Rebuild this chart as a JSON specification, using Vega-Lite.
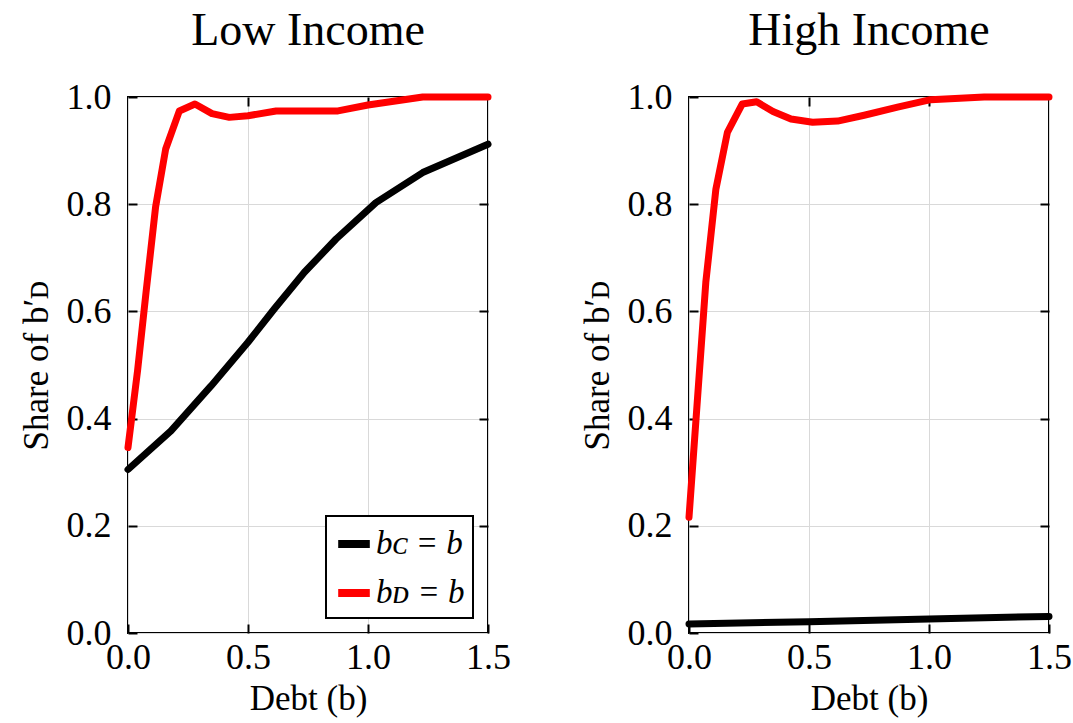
{
  "$schema": "https://vega.github.io/schema/vega-lite/v6.json",
  "background": "white",
  "padding": {"left": 18, "top": 7, "right": 5, "bottom": 5},
  "config": {
    "font": "Liberation Serif",
    "view": {"stroke": "black", "strokeWidth": 2},
    "axis": {
      "labelFont": "Liberation Serif",
      "titleFont": "Liberation Serif",
      "labelFontSize": 36,
      "titleFontSize": 35,
      "titleFontWeight": "normal",
      "labelColor": "black",
      "titleColor": "black",
      "gridColor": "#d9d9d9",
      "gridWidth": 1,
      "domain": false,
      "tickColor": "black",
      "tickWidth": 2,
      "tickSize": -9,
      "labelFlush": false
    },
    "title": {"font": "Liberation Serif", "fontSize": 46, "fontWeight": "normal", "color": "black", "frame": "group", "anchor": "middle", "offset": 24}
  },
  "datasets": {
    "low": [
      {"b": 0.0, "share": 0.305, "series": "C"},
      {"b": 0.179, "share": 0.377, "series": "C"},
      {"b": 0.346, "share": 0.461, "series": "C"},
      {"b": 0.499, "share": 0.542, "series": "C"},
      {"b": 0.61, "share": 0.605, "series": "C"},
      {"b": 0.735, "share": 0.673, "series": "C"},
      {"b": 0.867, "share": 0.735, "series": "C"},
      {"b": 1.033, "share": 0.803, "series": "C"},
      {"b": 1.228, "share": 0.859, "series": "C"},
      {"b": 1.5, "share": 0.912, "series": "C"},
      {"b": 0.0, "share": 0.346, "series": "D"},
      {"b": 0.04, "share": 0.49, "series": "D"},
      {"b": 0.075, "share": 0.635, "series": "D"},
      {"b": 0.115, "share": 0.795, "series": "D"},
      {"b": 0.157, "share": 0.903, "series": "D"},
      {"b": 0.214, "share": 0.974, "series": "D"},
      {"b": 0.279, "share": 0.987, "series": "D"},
      {"b": 0.35, "share": 0.969, "series": "D"},
      {"b": 0.422, "share": 0.962, "series": "D"},
      {"b": 0.5, "share": 0.965, "series": "D"},
      {"b": 0.617, "share": 0.974, "series": "D"},
      {"b": 0.875, "share": 0.974, "series": "D"},
      {"b": 1.0, "share": 0.985, "series": "D"},
      {"b": 1.228, "share": 1.0, "series": "D"},
      {"b": 1.5, "share": 1.0, "series": "D"}
    ],
    "high": [
      {"b": 0.0, "share": 0.017, "series": "C"},
      {"b": 0.5, "share": 0.021, "series": "C"},
      {"b": 1.0, "share": 0.026, "series": "C"},
      {"b": 1.5, "share": 0.031, "series": "C"},
      {"b": 0.0, "share": 0.216, "series": "D"},
      {"b": 0.07, "share": 0.654, "series": "D"},
      {"b": 0.112, "share": 0.828, "series": "D"},
      {"b": 0.16, "share": 0.934, "series": "D"},
      {"b": 0.222, "share": 0.987, "series": "D"},
      {"b": 0.282, "share": 0.991, "series": "D"},
      {"b": 0.35, "share": 0.973, "series": "D"},
      {"b": 0.425, "share": 0.959, "series": "D"},
      {"b": 0.515, "share": 0.953, "series": "D"},
      {"b": 0.619, "share": 0.955, "series": "D"},
      {"b": 0.73, "share": 0.966, "series": "D"},
      {"b": 0.869, "share": 0.981, "series": "D"},
      {"b": 1.007, "share": 0.995, "series": "D"},
      {"b": 1.23, "share": 1.0, "series": "D"},
      {"b": 1.5, "share": 1.0, "series": "D"}
    ]
  },
  "spacing": 67,
  "resolve": {"scale": {"color": "independent"}, "legend": {"color": "independent"}},
  "hconcat": [
    {
      "width": 360,
      "height": 536,
      "title": "Low Income",
      "data": {"name": "low"},
      "resolve": {"axis": {"x": "independent", "y": "independent"}},
      "layer": [
        {
          "mark": {"type": "line", "strokeWidth": 7, "strokeCap": "round", "strokeJoin": "round"},
          "encoding": {
            "x": {"field": "b", "type": "quantitative", "scale": {"domain": [0, 1.5], "nice": false, "zero": false},
                  "axis": {"orient": "bottom", "title": "Debt (b)", "values": [0, 0.5, 1, 1.5], "format": ".1f", "labelPadding": 16, "titlePadding": 6}},
            "y": {"field": "share", "type": "quantitative", "scale": {"domain": [0, 1], "nice": false},
                  "axis": {"orient": "left", "title": "Share of b′ᴅ", "values": [0, 0.2, 0.4, 0.6, 0.8, 1.0], "format": ".1f", "labelPadding": 26, "titlePadding": 12}},
            "color": {"field": "series", "type": "nominal",
                      "scale": {"domain": ["C", "D"], "range": ["black", "red"]},
                      "legend": {"orient": "bottom-right", "offset": 15, "title": null,
                                 "labelExpr": "datum.value == 'C' ? 'bᴄ = b' : 'bᴅ = b'",
                                 "symbolType": "stroke", "symbolStrokeWidth": 8, "symbolSize": 1000,
                                 "labelFontSize": 33, "labelFontStyle": "italic", "labelColor": "black", "labelFont": "Liberation Serif",
                                 "strokeColor": "black", "fillColor": "white", "padding": 8, "rowPadding": 12, "labelOffset": 2,
                                 "encode": {"legend": {"update": {"strokeWidth": {"value": 2}}}}}}
          }
        },
        {
          "mark": {"type": "line", "opacity": 0},
          "encoding": {
            "x": {"field": "b", "type": "quantitative", "axis": {"orient": "top", "title": null, "labels": false, "grid": false, "values": [0.5, 1]}},
            "y": {"field": "share", "type": "quantitative", "axis": {"orient": "right", "title": null, "labels": false, "grid": false, "values": [0.2, 0.4, 0.6, 0.8]}},
            "detail": {"field": "series"}
          }
        }
      ]
    },
    {
      "width": 360,
      "height": 536,
      "title": "High Income",
      "data": {"name": "high"},
      "resolve": {"axis": {"x": "independent", "y": "independent"}},
      "layer": [
        {
          "mark": {"type": "line", "strokeWidth": 7, "strokeCap": "round", "strokeJoin": "round"},
          "encoding": {
            "x": {"field": "b", "type": "quantitative", "scale": {"domain": [0, 1.5], "nice": false, "zero": false},
                  "axis": {"orient": "bottom", "title": "Debt (b)", "values": [0, 0.5, 1, 1.5], "format": ".1f", "labelPadding": 16, "titlePadding": 6}},
            "y": {"field": "share", "type": "quantitative", "scale": {"domain": [0, 1], "nice": false},
                  "axis": {"orient": "left", "title": "Share of b′ᴅ", "values": [0, 0.2, 0.4, 0.6, 0.8, 1.0], "format": ".1f", "labelPadding": 26, "titlePadding": 12}},
            "color": {"field": "series", "type": "nominal",
                      "scale": {"domain": ["C", "D"], "range": ["black", "red"]},
                      "legend": null}
          }
        },
        {
          "mark": {"type": "line", "opacity": 0},
          "encoding": {
            "x": {"field": "b", "type": "quantitative", "axis": {"orient": "top", "title": null, "labels": false, "grid": false, "values": [0.5, 1]}},
            "y": {"field": "share", "type": "quantitative", "axis": {"orient": "right", "title": null, "labels": false, "grid": false, "values": [0.2, 0.4, 0.6, 0.8]}},
            "detail": {"field": "series"}
          }
        }
      ]
    }
  ]
}
